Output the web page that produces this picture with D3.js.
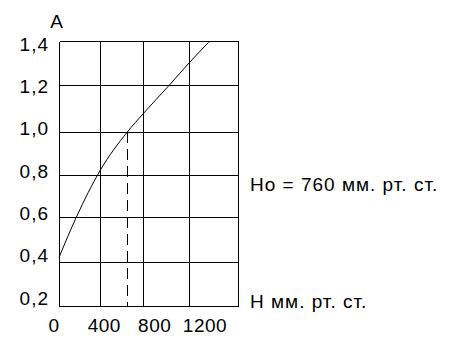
<!DOCTYPE html>
<html>
<head>
<meta charset="utf-8">
<script src="https://cdn.jsdelivr.net/npm/d3@7/dist/d3.min.js"></script>
<style>
  body { margin: 0; background: #fff; }
  text { font-family: Arial, "Liberation Sans", sans-serif; fill: #000; font-size: 19px; letter-spacing: 1px; }
</style>
</head>
<body>
<div id="chart"></div>
<script>
// values
var pressureH = [0, 170, 400, 654, 800, 1030, 1200, 1360];
var ratioA = [0.42, 0.6, 0.82, 1.0, 1.077, 1.2, 1.3, 1.394];

// grid values and tick labels
var gridH = [0, 400, 800, 1200, 1600];
var gridA = [0.2, 0.4, 0.6, 0.8, 1.0, 1.2, 1.4];
var xTickValues = [0, 400, 800, 1200];
var yTickLabels = ["0,2", "0,4", "0,6", "0,8", "1,0", "1,2", "1,4"];

// point where A = 1
var markH = 654, markA = 1.0;

var width = 449, height = 341;

var svg = d3.select("#chart")
	.append("svg")
	.attr("width", width)
	.attr("height", height);

// the grid of the original is hand drawn, so the scales are piecewise
var x = d3.scaleLinear()
	.domain(gridH)
	.range([59, 100, 143, 189, 238]);

var y = d3.scaleLinear()
	.domain(gridA)
	.range([306, 262, 217, 175, 132, 85, 41]);

// labels sit on their own spacing
var xLabel = d3.scaleLinear().domain([0, 1200]).range([54, 205]);
var yLabel = d3.scaleLinear().domain([0.2, 1.4]).range([298, 44]);

var grid = svg.append("g")
	.attr("stroke", "#000")
	.attr("stroke-width", 1)
	.attr("shape-rendering", "crispEdges");

grid.selectAll("line.v")
	.data(gridH)
	.enter().append("line")
	.attr("class", "v")
	.attr("x1", function (d) { return Math.round(x(d)) + 0.5; })
	.attr("x2", function (d) { return Math.round(x(d)) + 0.5; })
	.attr("y1", y(1.4) + 0.5)
	.attr("y2", y(0.2) + 0.5);

grid.selectAll("line.h")
	.data(gridA)
	.enter().append("line")
	.attr("class", "h")
	.attr("x1", x(0) + 0.5)
	.attr("x2", x(1600) + 0.5)
	.attr("y1", function (d) { return Math.round(y(d)) + 0.5; })
	.attr("y2", function (d) { return Math.round(y(d)) + 0.5; });

// dashed drop line
svg.append("line")
	.attr("x1", Math.round(x(markH)) + 0.5)
	.attr("x2", Math.round(x(markH)) + 0.5)
	.attr("y1", y(markA))
	.attr("y2", y(0.2))
	.attr("stroke", "#000")
	.attr("stroke-width", 1)
	.attr("stroke-dasharray", "11,6")
	.attr("shape-rendering", "crispEdges");

// curve
var line = d3.line()
	.x(function (d) { return x(d[0]); })
	.y(function (d) { return y(d[1]); })
	.curve(d3.curveMonotoneX);

svg.append("path")
	.datum(d3.zip(pressureH, ratioA))
	.attr("d", line)
	.attr("fill", "none")
	.attr("stroke", "#000")
	.attr("stroke-width", 1);

// tick labels
svg.selectAll("text.ylab")
	.data(gridA)
	.enter().append("text")
	.attr("class", "ylab")
	.attr("x", 49)
	.attr("y", function (d) { return yLabel(d); })
	.attr("dy", "0.35em")
	.attr("text-anchor", "end")
	.text(function (d, i) { return yTickLabels[i]; });

svg.selectAll("text.xlab")
	.data(xTickValues)
	.enter().append("text")
	.attr("class", "xlab")
	.attr("x", function (d) { return xLabel(d); })
	.attr("y", 325)
	.attr("dy", "0.35em")
	.attr("text-anchor", "middle")
	.style("letter-spacing", "0.5px")
	.text(function (d) { return d; });

// axis names and note
svg.append("text")
	.attr("x", 57).attr("y", 21).attr("dy", "0.35em")
	.attr("text-anchor", "middle")
	.text("A");

svg.append("text")
	.attr("x", 250).attr("y", 184).attr("dy", "0.35em")
	.text("Ho = 760 мм. рт. ст.");

svg.append("text")
	.attr("x", 250).attr("y", 301).attr("dy", "0.35em")
	.text("H мм. рт. ст.");
</script>
</body>
</html>
